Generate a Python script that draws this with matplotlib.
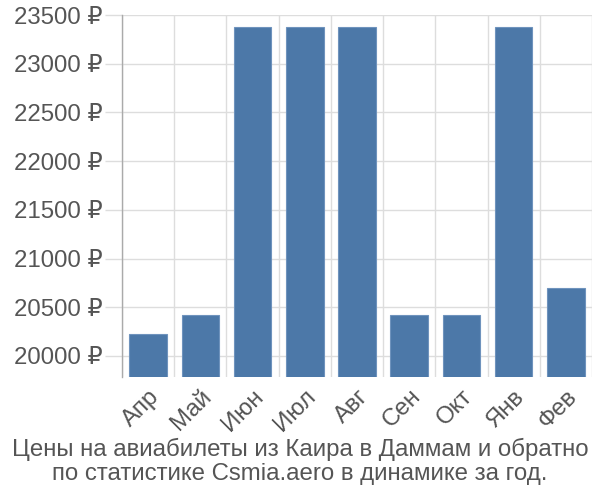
import matplotlib
matplotlib.use("Agg")
import matplotlib.pyplot as plt
import numpy as np

plt.rcParams['font.family'] = ['Liberation Sans', 'DejaVu Sans']

# data
months = ['Апр', 'Май', 'Июн', 'Июл', 'Авг', 'Сен', 'Окт', 'Янв', 'Фев']
prices = [20230, 20420, 23380, 23380, 23380, 20420, 20420, 23380, 20700]
yticks = [20000, 20500, 21000, 21500, 22000, 22500, 23000, 23500]
title = 'Цены на авиабилеты из Каира в Даммам и обратно\nпо статистике Csmia.aero в динамике за год.'

fig = plt.figure(figsize=(6, 5), dpi=100)
ax = fig.add_axes([0.2033, 0.246, 0.7834, 0.724])

x = np.arange(len(months))
ax.bar(x, prices, width=0.72, color='#4c78a8', edgecolor='#6f93bd', linewidth=0.8, zorder=3)

ax.set_xlim(-0.5, len(months) - 0.5)
ax.set_ylim(19784, 23500)

ax.set_yticks(yticks)
ax.set_yticklabels([f'{v} ₽' for v in yticks])
ax.set_xticks(x)
ax.set_xticklabels(months, rotation=45, ha='right', rotation_mode='anchor')

# vertical grid lines at the category boundaries
ax.set_xticks(np.arange(len(months) + 1) - 0.5, minor=True)
ax.grid(True, which='minor', axis='x', color='#dddddd', linewidth=1, zorder=0)
ax.grid(True, which='major', axis='y', color='#dddddd', linewidth=1, zorder=0)

ax.tick_params(axis='y', length=12, width=1, color='#dddddd', labelsize=17.3,
               labelcolor='#555555', pad=2)
ax.tick_params(axis='x', which='major', length=0, labelsize=17.3, labelcolor='#555555', pad=6)
ax.tick_params(axis='x', which='minor', length=0)

for s in ['top', 'right', 'bottom']:
    ax.spines[s].set_visible(False)
ax.spines['left'].set_color('#aaaaaa')
ax.spines['left'].set_linewidth(1)

fig.text(0.5, 0.077, title, ha='center', va='center', fontsize=17.3,
         color='#555555', linespacing=1.1)

fig.savefig('out.png', dpi=100)
